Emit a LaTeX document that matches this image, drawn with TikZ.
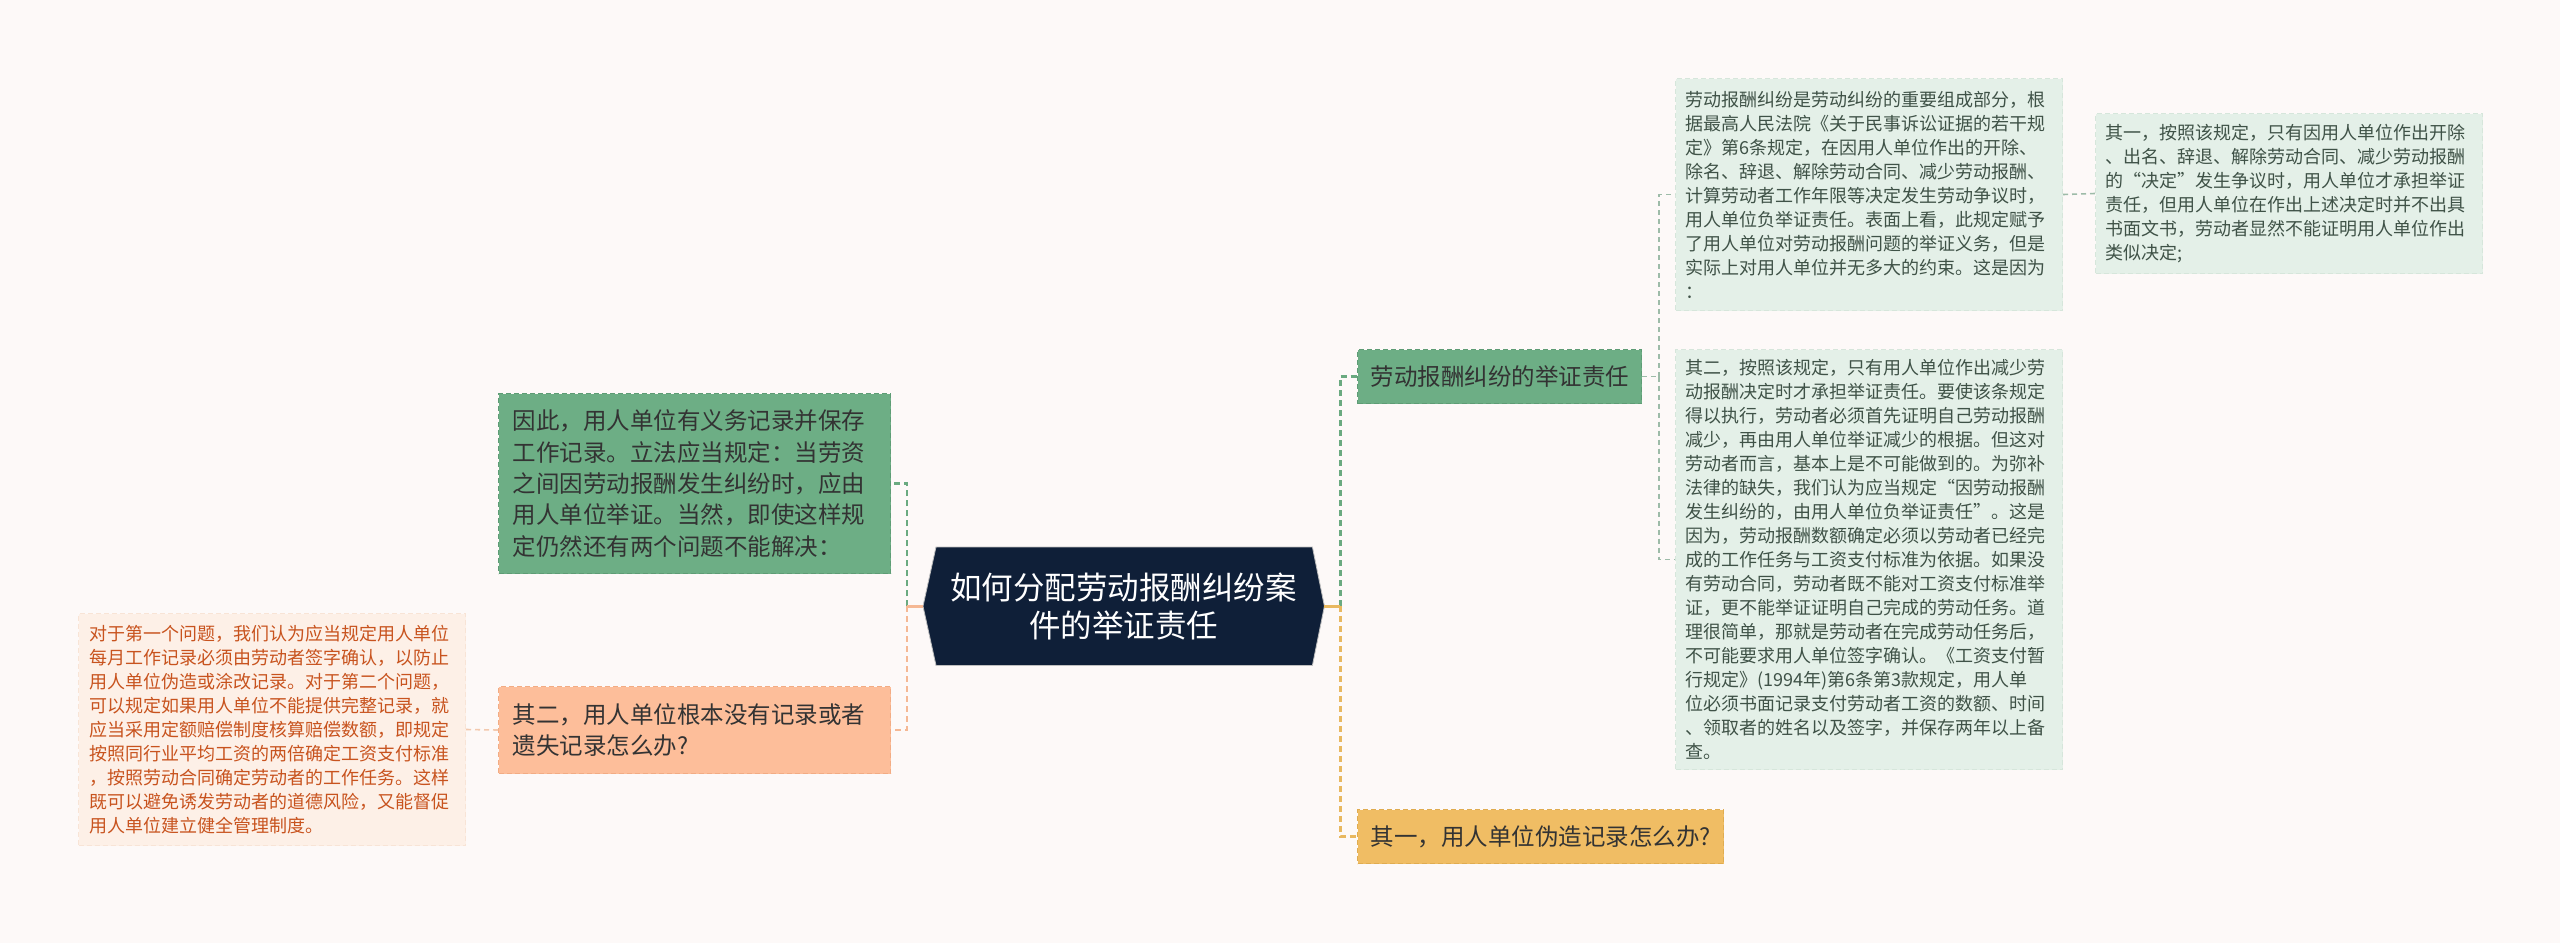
\documentclass[tikz,border=0pt]{standalone}
\usepackage{fontspec}
\newfontfamily\cjk{Noto Sans CJK SC}
\usetikzlibrary{calc}
\definecolor{bgc}{HTML}{FDF9F8}
\definecolor{navy}{HTML}{0F1F38}
\definecolor{gnode}{HTML}{6DAE85}
\definecolor{gnodeb}{HTML}{5E9C75}
\definecolor{ynode}{HTML}{F0BD64}
\definecolor{ynodeb}{HTML}{E0AC50}
\definecolor{onode}{HTML}{FDBE9A}
\definecolor{onodeb}{HTML}{F2AC84}
\definecolor{lgreen}{HTML}{E4F0E8}
\definecolor{lgreenb}{HTML}{D6E6DB}
\definecolor{lgtext}{HTML}{3F5247}
\definecolor{lpeach}{HTML}{FDF0E7}
\definecolor{lpeachb}{HTML}{F8E4D6}
\definecolor{ptext}{HTML}{C8531E}
\definecolor{gline}{HTML}{6AAA80}
\definecolor{oline}{HTML}{F5B894}
\definecolor{yline}{HTML}{E8B860}
\definecolor{sline}{HTML}{9DBBA8}
\definecolor{pline}{HTML}{F3C9AE}
\begin{document}
\begin{tikzpicture}[x=1pt,y=-1pt,
  boxbase/.style={anchor=north west, inner ysep=0pt, align=left, dashed, dash pattern=on 5pt off 3pt, line width=1pt},
  small/.style={boxbase, font=\cjk\fontsize{18}{24}\selectfont, inner xsep=10pt},
  big/.style={boxbase, font=\cjk\fontsize{23.5}{31.3}\selectfont, inner xsep=13pt},
  lgbox/.style={small, fill=lgreen, draw=lgreenb, text=lgtext},
  lpbox/.style={small, fill=lpeach, draw=lpeachb, text=ptext},
  gbox/.style={big, fill=gnode, draw=gnodeb, text=black!80},
  ybox/.style={big, fill=ynode, draw=ynodeb, text=black!80},
  obox/.style={big, fill=onode, draw=onodeb, text=black!80},
  mainconn/.style={line width=2.6pt, dash pattern=on 6pt off 4pt},
  subconn/.style={line width=1.6pt, dash pattern=on 5pt off 4pt},
]
\fill[bgc] (0,0) rectangle (2560,943);
\useasboundingbox (0,0) rectangle (2560,943);

% central node
\node[inner sep=0pt, minimum width=401pt, minimum height=118pt, anchor=north west] (center) at (923,547) {};
\fill[navy, draw=gray!50, line width=0.8pt] ($(center.north west)+(13,0)$) -- ($(center.north east)+(-12,0)$) -- (center.east) -- ($(center.south east)+(-12,0)$) -- ($(center.south west)+(13,0)$) -- (center.west) -- cycle;
\node[align=center, text=white, font=\cjk\fontsize{31.5}{38}\selectfont] (ctext) at (center.center) {如何分配劳动报酬纠纷案\\件的举证责任};

% left side
\node[gbox, text width=364pt, inner xsep=14pt, minimum height=180pt] (D) at (498,393) {因此，用人单位有义务记录并保存\\工作记录。立法应当规定：当劳资\\之间因劳动报酬发生纠纷时，应由\\用人单位举证。当然，即使这样规\\定仍然还有两个问题不能解决：};
\node[obox, text width=364pt, inner xsep=14pt, minimum height=87pt] (E) at (498,686) {其二，用人单位根本没有记录或者\\遗失记录怎么办?};
\node[lpbox, text width=365pt, inner xsep=11pt, minimum height=232pt] (F) at (78,613) {对于第一个问题，我们认为应当规定用人单位\\每月工作记录必须由劳动者签字确认，以防止\\用人单位伪造或涂改记录。对于第二个问题，\\可以规定如果用人单位不能提供完整记录，就\\应当采用定额赔偿制度核算赔偿数额，即规定\\按照同行业平均工资的两倍确定工资支付标准\\，按照劳动合同确定劳动者的工作任务。这样\\既可以避免诱发劳动者的道德风险，又能督促\\用人单位建立健全管理制度。};

% right side
\node[gbox, text width=258pt, minimum height=54pt] (G) at (1357,349) {劳动报酬纠纷的举证责任};
\node[ybox, text width=340pt, minimum height=54pt] (Y) at (1357,809) {其一，用人单位伪造记录怎么办?};
\node[lgbox, text width=367pt, minimum height=232pt] (A) at (1675,78) {劳动报酬纠纷是劳动纠纷的重要组成部分，根\\据最高人民法院《关于民事诉讼证据的若干规\\定》第6条规定，在因用人单位作出的开除、\\除名、辞退、解除劳动合同、减少劳动报酬、\\计算劳动者工作年限等决定发生劳动争议时，\\用人单位负举证责任。表面上看，此规定赋予\\了用人单位对劳动报酬问题的举证义务，但是\\实际上对用人单位并无多大的约束。这是因为\\：};
\node[lgbox, text width=367pt, minimum height=420pt] (B) at (1675,349) {其二，按照该规定，只有用人单位作出减少劳\\动报酬决定时才承担举证责任。要使该条规定\\得以执行，劳动者必须首先证明自己劳动报酬\\减少，再由用人单位举证减少的根据。但这对\\劳动者而言，基本上是不可能做到的。为弥补\\法律的缺失，我们认为应当规定“因劳动报酬\\发生纠纷的，由用人单位负举证责任”。这是\\因为，劳动报酬数额确定必须以劳动者已经完\\成的工作任务与工资支付标准为依据。如果没\\有劳动合同，劳动者既不能对工资支付标准举\\证，更不能举证证明自己完成的劳动任务。道\\理很简单，那就是劳动者在完成劳动任务后，\\不可能要求用人单位签字确认。《工资支付暂\\行规定》(1994年)第6条第3款规定，用人单\\位必须书面记录支付劳动者工资的数额、时间\\、领取者的姓名以及签字，并保存两年以上备\\查。};
\node[lgbox, text width=367pt, minimum height=160pt] (C) at (2095,113) {其一，按照该规定，只有因用人单位作出开除\\、出名、辞退、解除劳动合同、减少劳动报酬\\的“决定”发生争议时，用人单位才承担举证\\责任，但用人单位在作出上述决定时并不出具\\书面文书，劳动者显然不能证明用人单位作出\\类似决定;};

% connectors
\coordinate (lt) at ($(center.west)+(-16,0)$);
\coordinate (rt) at ($(center.east)+(16,0)$);
\coordinate (gt) at ($(G.east)+(17,0)$);
\draw[gline, mainconn] (lt) |- (D.east);
\draw[oline, mainconn] (lt) |- (E.east);
\draw[oline, line width=2.6pt] (center.west) -- (lt);
\draw[gline, mainconn] (rt) |- (G.west);
\draw[yline, mainconn] (rt) |- (Y.west);
\draw[yline, line width=2.6pt] (center.east) -- (rt);
\draw[sline, subconn] (G.east) -- (gt);
\draw[sline, subconn] (gt) |- (A.west);
\draw[sline, subconn] (gt) |- (B.west);
\draw[sline, subconn] (A.east) -- (C.west);
\draw[pline, subconn] (E.west) -- (F.east);
\end{tikzpicture}
\end{document}
